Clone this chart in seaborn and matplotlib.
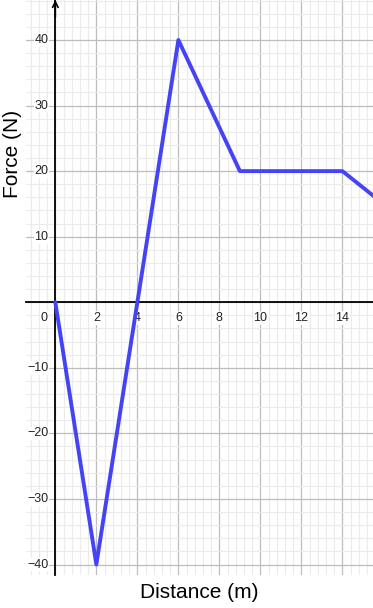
import matplotlib
matplotlib.use("Agg")
import matplotlib.pyplot as plt
import matplotlib.ticker as mticker
import seaborn as sns
import pandas as pd

# Data
distance = [0, 2, 4, 6, 9, 14, 16]
force = [0, -40, 0, 40, 20, 20, 15]
x_ticks = [0, 2, 4, 6, 8, 10, 12, 14]
y_ticks = [-40, -30, -20, -10, 10, 20, 30, 40]
x_label = "Distance (m)"
y_label = "Force (N)"

df = pd.DataFrame({"Distance": distance, "Force": force})

sns.set_theme(style="white")
plt.rcParams["font.family"] = ["Liberation Sans", "DejaVu Sans"]
plt.rcParams["axes.unicode_minus"] = True

W, H = 373, 608
fig = plt.figure(figsize=(W / 100, H / 100), dpi=100)
ax = fig.add_axes([26 / W, (H - 575) / H, 347 / W, 575 / H])

sns.lineplot(data=df, x="Distance", y="Force", ax=ax, color="#4444f6",
             linewidth=2.8, sort=False, zorder=5, solid_capstyle="round",
             solid_joinstyle="round")

ax.set_xlim(-1.43, 15.49)
ax.set_ylim(-41.6, 46.1)

# grid
ax.xaxis.set_major_locator(mticker.FixedLocator(x_ticks + [-2, 16]))
ax.yaxis.set_major_locator(mticker.MultipleLocator(10))
ax.xaxis.set_minor_locator(mticker.MultipleLocator(0.4))
ax.yaxis.set_minor_locator(mticker.MultipleLocator(2))
ax.grid(which="major", color="#bdbdbd", linewidth=0.9, zorder=1)
ax.grid(which="minor", color="#ebebeb", linewidth=0.8, zorder=0)
ax.set_axisbelow(True)
ax.tick_params(which="both", length=0, labelbottom=False, labelleft=False)

# spines through origin
for s in ["top", "right"]:
    ax.spines[s].set_visible(False)
ax.spines["left"].set_position(("data", 0))
ax.spines["bottom"].set_position(("data", 0))
ax.spines["left"].set_color("black")
ax.spines["bottom"].set_color("black")
ax.spines["left"].set_linewidth(1.3)
ax.spines["bottom"].set_linewidth(1.3)
ax.spines["left"].set_zorder(3)
ax.spines["bottom"].set_zorder(3)

# arrow at top of y axis
ax.annotate("", xy=(0, 46.1), xytext=(0, 43.5),
            arrowprops=dict(arrowstyle="->", lw=1.2, color="black",
                            mutation_scale=10, shrinkA=0, shrinkB=0),
            zorder=4)

bbox = dict(facecolor="white", edgecolor="none", pad=0.6)
# x tick labels
for xv in x_ticks:
    xx = xv if xv != 0 else -0.55
    ax.annotate(str(xv), xy=(xx, 0), xytext=(0, -11.5),
                textcoords="offset points", ha="center", va="center",
                fontsize=9, color="#222222", bbox=bbox, zorder=4)
# y tick labels
for yv in y_ticks:
    lab = str(yv).replace("-", "\u2212")
    ax.annotate(lab, xy=(0, yv), xytext=(-5.0, 0),
                textcoords="offset points", ha="right", va="center",
                fontsize=9, color="#222222", bbox=bbox, zorder=4)

ax.set_xlabel("")
ax.set_ylabel("")
fig.text(199 / W, 1 - 593 / H, x_label, ha="center", va="center",
         fontsize=15, color="black")
fig.text(13 / W, 1 - 154 / H, y_label, ha="center", va="center",
         fontsize=15, rotation=90, color="black")

fig.savefig("out.png", dpi=100)
